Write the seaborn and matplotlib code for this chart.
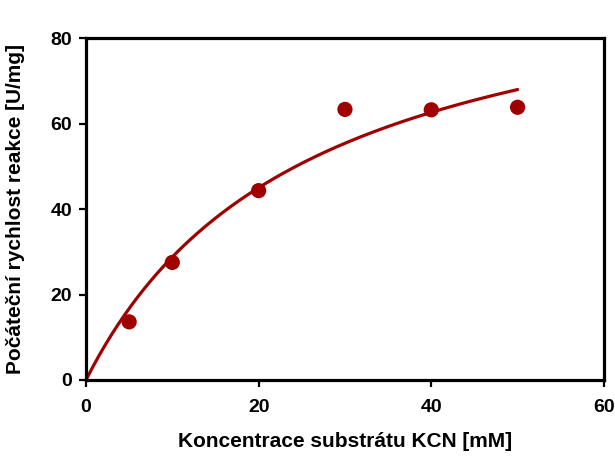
import numpy as np
import pandas as pd
import matplotlib
matplotlib.use("Agg")
import matplotlib.pyplot as plt
import seaborn as sns

# Data
conc = [5, 10, 20, 30, 40, 50]               # mM KCN
rate = [13.6, 27.5, 44.3, 63.3, 63.2, 63.8]  # U/mg
# Michaelis-Menten fit parameters
vmax = 103.0
km = 25.8
fit_x_max = 50

xticks = [0, 20, 40, 60]
yticks = [0, 20, 40, 60, 80]
xlabel = "Koncentrace substrátu KCN [mM]"
ylabel = "Počáteční rychlost reakce [U/mg]"

sns.set_theme(style="ticks")
plt.rcParams["font.family"] = ["Liberation Sans", "DejaVu Sans"]
plt.rcParams["font.weight"] = "bold"
plt.rcParams["text.color"] = "black"
plt.rcParams["axes.labelcolor"] = "black"

color = "#A00000"

fig = plt.figure(figsize=(6.15, 4.62), dpi=100)
ax = fig.add_axes([0.1398, 0.1775, 0.8422, 0.7402])

df = pd.DataFrame({"x": conc, "y": rate})
xs = np.linspace(0, fit_x_max, 200)
fit = pd.DataFrame({"x": xs, "y": vmax * xs / (km + xs)})

sns.lineplot(data=fit, x="x", y="y", ax=ax, color=color, linewidth=2.3)
sns.scatterplot(data=df, x="x", y="y", ax=ax, color=color, s=120,
                edgecolor="none", zorder=3)

ax.set_xlim(0, 60)
ax.set_ylim(0, 80)
ax.set_xticks(xticks)
ax.set_yticks(yticks)
ax.set_xticklabels([str(t) for t in xticks], fontsize=14, fontweight="bold")
ax.set_yticklabels([str(t) for t in yticks], fontsize=14, fontweight="bold")
for s in ax.spines.values():
    s.set_visible(True)
    s.set_linewidth(2.3)
    s.set_color("black")
ax.tick_params(axis="both", direction="out", length=5, width=1.6,
               color="black", labelcolor="black")
ax.tick_params(axis="y", pad=5)
ax.tick_params(axis="x", pad=9)
ax.set_xlabel(xlabel, fontsize=15, fontweight="bold", va="center")
ax.set_ylabel(ylabel, fontsize=15, fontweight="bold", va="center")
ax.xaxis.set_label_coords(0.5, -0.181)
ax.yaxis.set_label_coords(-0.137, 0.5)
ax.grid(False)

fig.savefig("out.png", dpi=100)
